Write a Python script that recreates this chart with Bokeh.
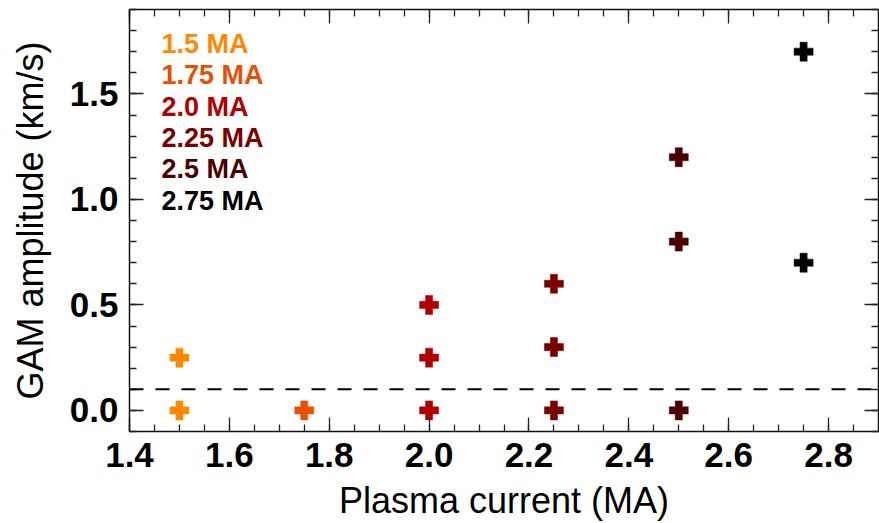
from bokeh.plotting import figure
from bokeh.models import (ColumnDataSource, Range1d, LinearAxis, SingleIntervalTicker,
                          Span, Label, PrintfTickFormatter, CustomJSTickFormatter)
from bokeh.embed import file_html
from bokeh.resources import INLINE

# ---- data ----
currents = [1.5, 1.5, 1.75, 2.0, 2.0, 2.0, 2.25, 2.25, 2.25, 2.5, 2.5, 2.5, 2.75, 2.75]
amplitudes = [0.25, 0.0, 0.0, 0.5, 0.25, 0.0, 0.6, 0.3, 0.0, 1.2, 0.8, 0.0, 1.7, 0.7]
legend_labels = ["1.5 MA", "1.75 MA", "2.0 MA", "2.25 MA", "2.5 MA", "2.75 MA"]
legend_currents = [1.5, 1.75, 2.0, 2.25, 2.5, 2.75]
legend_colors = ["#FF8800", "#E65000", "#B00000", "#7A0000", "#4B0000", "#000000"]
threshold = 0.1

color_map = dict(zip(legend_currents, legend_colors))
colors = [color_map[c] for c in currents]

FONT = "Liberation Sans"

p = figure(width=879, height=523, output_backend="svg", toolbar_location=None,
           x_range=Range1d(1.4, 2.9), y_range=Range1d(-0.1, 1.9),
           min_border_left=129, min_border_right=1, min_border_top=9,
           min_border_bottom=92)
p.grid.visible = False
p.outline_line_color = None
p.background_fill_color = "white"
p.border_fill_color = "white"

def style_axis(ax, labels=True):
    ax.axis_line_color = "#111111"
    ax.axis_line_width = 1.5
    ax.major_tick_line_color = "#222222"
    ax.minor_tick_line_color = "#222222"
    ax.major_tick_line_width = 1.3
    ax.minor_tick_line_width = 1.3
    ax.major_tick_in = 14
    ax.major_tick_out = 0
    ax.minor_tick_in = 7
    ax.minor_tick_out = 0
    if labels:
        ax.formatter = PrintfTickFormatter(format="%.1f")
        ax.major_label_text_font = FONT
        ax.major_label_text_font_size = "35px"
        ax.major_label_text_font_style = "bold"
        ax.major_label_text_color = "black"
        ax.axis_label_text_font = FONT
        ax.axis_label_text_font_size = "36px"
        ax.axis_label_text_font_style = "normal"
        ax.axis_label_text_color = "black"
    else:
        ax.formatter = CustomJSTickFormatter(code="return ''")
        ax.major_label_standoff = 0

p.xaxis.ticker = SingleIntervalTicker(interval=0.2, num_minor_ticks=4)
p.yaxis.ticker = SingleIntervalTicker(interval=0.5, num_minor_ticks=5)
p.xaxis.axis_label = "Plasma current (MA)"
p.yaxis.axis_label = "GAM amplitude (km/s)"
style_axis(p.xaxis[0])
style_axis(p.yaxis[0])
p.xaxis.major_label_standoff = 11
p.xaxis.axis_label_standoff = 10
p.yaxis.major_label_standoff = 11
p.yaxis.axis_label_standoff = 16

top_ax = LinearAxis(ticker=SingleIntervalTicker(interval=0.2, num_minor_ticks=4))
right_ax = LinearAxis(ticker=SingleIntervalTicker(interval=0.5, num_minor_ticks=5))
style_axis(top_ax, labels=False)
style_axis(right_ax, labels=False)
p.add_layout(top_ax, "above")
p.add_layout(right_ax, "right")

p.add_layout(Span(location=threshold, dimension="width", line_color="black",
                  line_width=2, line_dash="14 12"))

src = ColumnDataSource(dict(x=currents, y=amplitudes, c=colors))
p.scatter("x", "y", source=src, marker="plus", size=19, fill_color="c",
          line_color="c", line_width=0.5)

# legend text block (positions in data units, top-left of plot)
LEG_X = 1.464
LEG_Y0 = 1.738
LEG_DY = 0.149
for i, (lab, col) in enumerate(zip(legend_labels, legend_colors)):
    p.add_layout(Label(x=LEG_X, y=LEG_Y0 - i * LEG_DY, text=lab, text_color=col,
                       text_font=FONT, text_font_size="27px",
                       text_font_style="bold", text_baseline="alphabetic"))

open("out.html", "w").write(file_html(p, INLINE))
